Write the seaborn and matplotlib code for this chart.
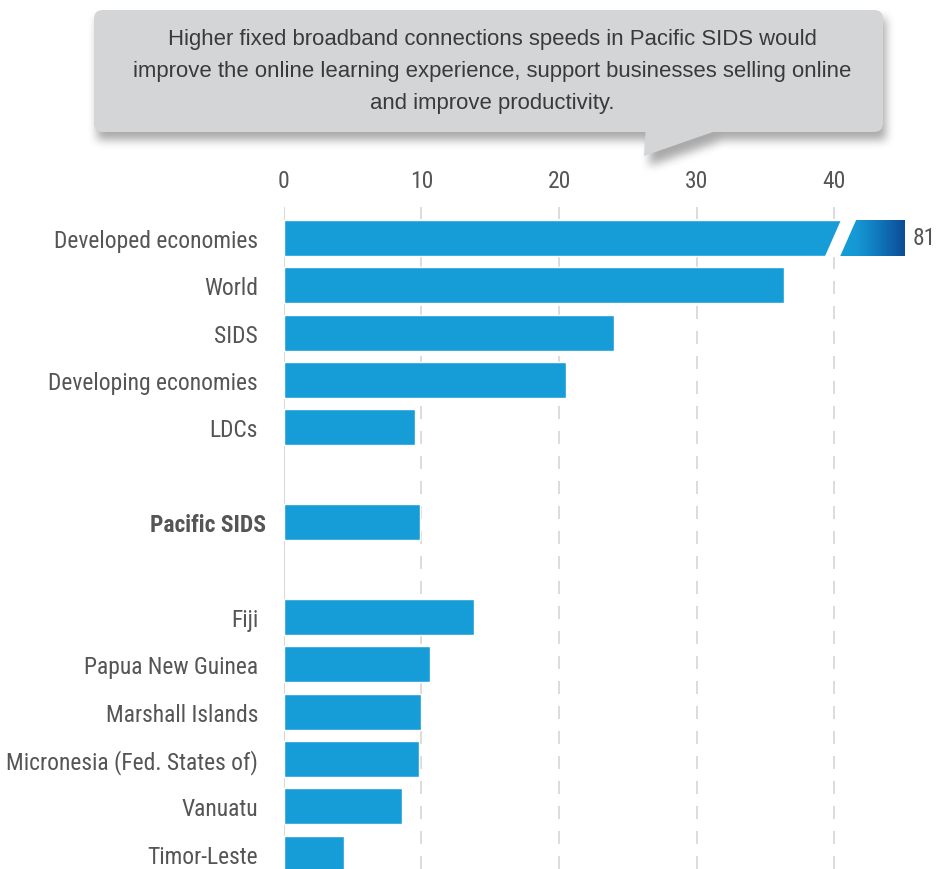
import matplotlib
matplotlib.use('Agg')
import matplotlib.pyplot as plt
import numpy as np
import pandas as pd
import seaborn as sns
from matplotlib import font_manager
from matplotlib.colors import LinearSegmentedColormap
from matplotlib.patches import FancyBboxPatch, Polygon
from matplotlib.path import Path
from matplotlib.transforms import ScaledTranslation

# data (fixed broadband download speed, Mbps)
top_group = ['Developed economies', 'World', 'SIDS', 'Developing economies', 'LDCs']
top_speed = [81, 36.3, 24.0, 20.5, 9.5]
mid_group = ['Pacific SIDS']
mid_speed = [9.9]
pac_group = ['Fiji', 'Papua New Guinea', 'Marshall Islands',
             'Micronesia (Fed. States of)', 'Vanuatu', 'Timor-Leste']
pac_speed = [13.8, 10.6, 10.0, 9.8, 8.6, 4.4]
xticks = [0, 10, 20, 30, 40]
callout = ['Higher fixed broadband connections speeds in Pacific SIDS would',
           'improve the online learning experience, support businesses selling online',
           'and improve productivity.']

BAR_CAP = 45.1    # where a bar beyond the axis is drawn to
BLUE = '#169dd8'
GREY = '#555555'

sns.set_theme(style='white')
available = {f.name for f in font_manager.fontManager.ttflist}
narrow = [f for f in ['Liberation Sans Narrow', 'Roboto Condensed', 'Arial Narrow']
          if f in available]
LABEL_FONT = narrow + ['Roboto', 'Liberation Sans', 'DejaVu Sans']
plt.rcParams['font.family'] = LABEL_FONT
plt.rcParams['lines.scale_dashes'] = False

economies = top_group + mid_group + pac_group
speeds = top_speed + mid_speed + pac_speed
df = pd.DataFrame({'economy': economies, 'speed': speeds})
df['shown'] = df['speed'].clip(upper=BAR_CAP)

order = top_group + ['_gap1'] + mid_group + ['_gap2'] + pac_group

W, H = 936, 870
fig = plt.figure(figsize=(W / 100, H / 100), dpi=100)


def fit_size(text, target_px, **kw):
    t = fig.text(0, 0, text, fontsize=10, **kw)
    w = t.get_window_extent(renderer=fig.canvas.get_renderer()).width
    t.remove()
    return 10 * target_px / w


FS = fit_size('Developed economies', 203)
FS_CALL = fit_size(callout[0], 649, family=['Liberation Sans', 'DejaVu Sans'])

ax = fig.add_axes([283.7 / W, 0, 640.3 / W, 662 / H])

sns.barplot(data=df, x='shown', y='economy', order=order, color=BLUE,
            saturation=1, width=0.76, errorbar=None, ax=ax, zorder=2)

# grid
ax.axvline(0, color='#d9d9d9', lw=1.5, zorder=1)
for x in xticks[1:]:
    ax.axvline(x, color='#d9d9d9', lw=1.3, ls=(0, (9.4, 8.6)), zorder=1)

# broken bar for values beyond the axis
slope, half_gap, cut_mid = 1.52, 0.55, 40.45
hb = 0.38
cmap = LinearSegmentedColormap.from_list(
    'brk', [(0, BLUE), (0.25, '#1699d5'), (0.6, '#1077bb'), (1, '#0b4c96')])
for i, name in enumerate(order):
    if name not in economies:
        continue
    v = df.loc[df['economy'] == name, 'speed'].iloc[0]
    if v <= BAR_CAP:
        continue

    def cut(y):
        return cut_mid - slope * y
    seg = Polygon([(cut(-hb) + half_gap, i - hb), (BAR_CAP, i - hb),
                   (BAR_CAP, i + hb), (cut(hb) + half_gap, i + hb)],
                  closed=True, facecolor='none', edgecolor='none')
    ax.add_patch(seg)
    im = ax.imshow(np.linspace(0, 1, 256).reshape(1, -1), cmap=cmap,
                   extent=[cut(hb) + half_gap, BAR_CAP, i + hb, i - hb],
                   aspect='auto', zorder=3, interpolation='bilinear')
    im.set_clip_path(seg)
    hb2 = hb + 0.005
    ax.add_patch(Polygon([(cut(-hb2) - half_gap, i - hb2), (cut(-hb2) + half_gap, i - hb2),
                          (cut(hb2) + half_gap, i + hb2), (cut(hb2) - half_gap, i + hb2)],
                         closed=True, facecolor='white', edgecolor='none', zorder=4))
    ax.text(BAR_CAP + 0.58, i, f'{v:g}', va='center', ha='left', fontsize=FS,
            color=GREY, clip_on=False)

ax.set_xlim(0, 46.5)
ax.set_ylim(13.32, -0.65)
ax.set_xticks(xticks)
ax.xaxis.tick_top()
ax.tick_params(axis='x', length=0, pad=11, labelsize=FS, labelcolor=GREY)
ax.tick_params(axis='y', length=0, pad=18.5, labelsize=FS, labelcolor=GREY)
ax.set_yticks(range(len(order)))
ax.set_yticklabels(['' if n.startswith('_gap') else n for n in order])
for t in ax.get_yticklabels():
    if t.get_text() in mid_group:
        t.set_fontweight('bold')
        t.set_transform(t.get_transform() + ScaledTranslation(0.08, 0, fig.dpi_scale_trans))
ax.set_xlabel('')
ax.set_ylabel('')
sns.despine(ax=ax, left=True, bottom=True, top=True, right=True)

# callout box
axc = fig.add_axes([0, 0, 1, 1])
axc.set_xlim(0, W)
axc.set_ylim(H, 0)
axc.axis('off')
axc.patch.set_visible(False)

bx, by, bw, bh = 94, 11, 789, 122
tail = np.array([(646, 126), (722, 126), (713, 133), (644, 157)])

# soft drop shadow: blurred mask of the callout shape
SH = 200
yy, xx = np.mgrid[0:SH, 0:W] + 0.5
dx, dy = 3, 8
mask = ((xx >= bx + dx) & (xx <= bx + bw + dx) & (yy >= by + dy) & (yy <= by + bh + dy)).astype(float)
tp = Path(tail + np.array([dx + 2, dy + 2]))
mask = np.maximum(mask, tp.contains_points(np.c_[xx.ravel(), yy.ravel()]).reshape(xx.shape))
k = np.ones(9) / 9
for _ in range(3):
    mask = np.apply_along_axis(lambda r: np.convolve(r, k, mode='same'), 1, mask)
    mask = np.apply_along_axis(lambda c: np.convolve(c, k, mode='same'), 0, mask)
shadow = np.zeros((SH, W, 4))
shadow[..., 3] = mask * 0.34
axc.imshow(shadow, extent=[0, W, SH, 0], aspect='auto', zorder=1, interpolation='bilinear')
axc.set_xlim(0, W)
axc.set_ylim(H, 0)

axc.add_patch(FancyBboxPatch((bx, by), bw, bh, boxstyle='round,pad=0,rounding_size=9',
                             facecolor='#d4d5d7', edgecolor='none', zorder=2))
axc.add_patch(Polygon(tail, closed=True, facecolor='#d4d5d7', edgecolor='none', zorder=2))
for j, line in enumerate(callout):
    axc.text(492, 45 + 32 * j, line, ha='center', va='baseline', fontsize=FS_CALL,
             color='#3a3a3a', family=['Liberation Sans', 'DejaVu Sans'], zorder=3)

fig.savefig('out.png', dpi=100)
